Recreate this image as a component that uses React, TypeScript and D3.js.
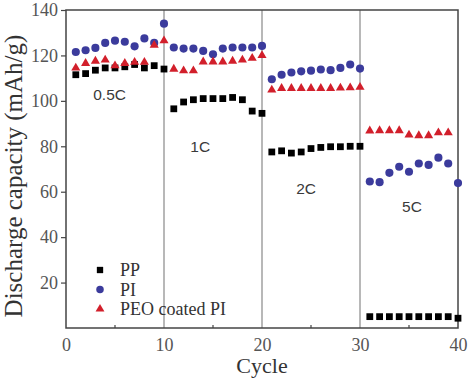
import React, { useEffect, useRef } from 'react';
import * as d3 from 'd3';

// cycle numbers 1..40
const cycles = d3.range(1, 41);

// discharge capacity (mAh/g)
const ppValues = [
  111.5, 112, 113.5, 114.5, 114.5, 115, 116, 114.5, 115.5, 114,
  96.5, 99.5, 100.5, 101, 101, 101, 101.5, 100.5, 95.5, 94.5,
  77.5, 78, 77, 77.5, 79, 79.5, 79.8, 79.8, 80, 80,
  5, 5, 5, 5, 5, 5, 5, 5, 5, 4.3,
];
const piValues = [
  121.5, 122.3, 123.3, 125.5, 126.5, 126, 124, 127.5, 125.5, 134,
  123.5, 123, 123, 122, 120.5, 123, 123.5, 123.5, 123.5, 124.2,
  109.5, 111.5, 112.5, 113, 113.3, 113.8, 113.5, 114.5, 116, 114.2,
  64.5, 64.2, 68.3, 71, 68.8, 72.4, 71.8, 75, 72.4, 63.8,
];
const peoValues = [
  114.5, 116.5, 117.5, 118, 115.5, 116.5, 117, 117, 124.5, 126.5,
  114, 113.3, 113.3, 117.2, 117.2, 117.2, 117.5, 118, 118.8, 120,
  104.8, 105.5, 105.5, 105.5, 105.5, 105.5, 105.5, 105.7, 105.8, 106,
  86.8, 86.9, 86.9, 86.9, 85, 84.7, 84.7, 86, 86,
];

const rateLabels = [
  { text: '0.5C', cycle: 4.45, value: 100.2 },
  { text: '1C', cycle: 13.7, value: 77.5 },
  { text: '2C', cycle: 24.5, value: 59 },
  { text: '5C', cycle: 35.3, value: 51 },
];
const separators = [10, 20, 30];
const yTicks = [20, 40, 60, 80, 100, 120, 140];
const xTicks = [0, 10, 20, 30, 40];
const xMinor = [5, 15, 25, 35];

const seriesNames = ['PP', 'PI', 'PEO coated PI'];

const App = () => {
  const ref = useRef<SVGSVGElement | null>(null);

  useEffect(() => {
    const svg = d3.select(ref.current);
    svg.selectAll('*').remove();

    const x = d3.scaleLinear().domain([0, 40]).range([66, 458]);
    const y = d3.scaleLinear().domain([0, 140]).range([328, 10]);
    const serif = '"Liberation Serif", "Times New Roman", serif';
    const axisColor = '#444';

    svg.append('rect').attr('width', 470).attr('height', 388).attr('fill', '#fff');

    // rate separators
    svg
      .selectAll('.sep')
      .data(separators)
      .enter()
      .append('line')
      .attr('x1', (d) => x(d))
      .attr('x2', (d) => x(d))
      .attr('y1', y(140))
      .attr('y2', y(0))
      .attr('stroke', '#9a9a9a')
      .attr('stroke-width', 1.4);

    // frame
    svg
      .append('rect')
      .attr('x', x(0))
      .attr('y', y(140))
      .attr('width', x(40) - x(0))
      .attr('height', y(0) - y(140))
      .attr('fill', 'none')
      .attr('stroke', axisColor)
      .attr('stroke-width', 1.5);

    // y axis
    const yAxis = svg
      .append('g')
      .attr('transform', `translate(${x(0)},0)`)
      .call(d3.axisLeft(y).tickValues(yTicks).tickSize(5).tickPadding(3));
    yAxis.attr('font-family', null);
    yAxis.select('.domain').remove();
    yAxis.selectAll('line').attr('stroke', axisColor).attr('stroke-width', 1.2);
    yAxis
      .selectAll('text')
      .style('font-family', serif)
      .style('font-size', '18px')
      .attr('fill', '#555');

    // x axis
    const xAxis = svg
      .append('g')
      .attr('transform', `translate(0,${y(0)})`)
      .call(d3.axisBottom(x).tickValues(xTicks).tickSize(0).tickPadding(10));
    xAxis.attr('font-family', null);
    xAxis.select('.domain').remove();
    xAxis
      .selectAll('text')
      .style('font-family', serif)
      .style('font-size', '18px')
      .attr('fill', '#555');

    svg
      .selectAll('.minor')
      .data(xMinor)
      .enter()
      .append('line')
      .attr('x1', (d) => x(d))
      .attr('x2', (d) => x(d))
      .attr('y1', y(0))
      .attr('y2', y(0) - 3)
      .attr('stroke', axisColor)
      .attr('stroke-width', 1.2);

    // axis titles
    svg
      .append('text')
      .attr('x', (x(0) + x(40)) / 2)
      .attr('y', 373)
      .attr('text-anchor', 'middle')
      .attr('font-family', serif)
      .attr('font-size', 22)
      .attr('fill', '#333')
      .text('Cycle');

    svg
      .append('text')
      .attr('transform', `translate(22,${176}) rotate(-90)`)
      .attr('text-anchor', 'middle')
      .attr('font-family', serif)
      .attr('font-size', 25)
      .attr('fill', '#333')
      .text('Discharge capacity (mAh/g)');

    // rate labels
    svg
      .selectAll('.rate')
      .data(rateLabels)
      .enter()
      .append('text')
      .attr('x', (d) => x(d.cycle))
      .attr('y', (d) => y(d.value))
      .attr('text-anchor', 'middle')
      .attr('font-family', '"Liberation Sans", Arial, sans-serif')
      .attr('font-size', 15.5)
      .attr('fill', '#3a3a3a')
      .text((d) => d.text);

    const square = d3.symbol().type(d3.symbolSquare).size(46);
    const circle = d3.symbol().type(d3.symbolCircle).size(52);
    const triangle = d3.symbol().type(d3.symbolTriangle).size(36);

    // PP squares
    svg
      .selectAll('.pp')
      .data(ppValues)
      .enter()
      .append('path')
      .attr('d', square)
      .attr('transform', (d, i) => `translate(${x(cycles[i])},${y(d)})`)
      .attr('fill', '#000');

    // PI circles
    svg
      .selectAll('.pi')
      .data(piValues)
      .enter()
      .append('path')
      .attr('d', circle)
      .attr('transform', (d, i) => `translate(${x(cycles[i])},${y(d)})`)
      .attr('fill', '#3b3b9c');

    // PEO coated PI triangles
    svg
      .selectAll('.peo')
      .data(peoValues)
      .enter()
      .append('path')
      .attr('d', triangle)
      .attr('transform', (d, i) => `translate(${x(cycles[i])},${y(d)})`)
      .attr('fill', '#d21f2b');

    // legend
    const legendShapes = [
      { sym: d3.symbol().type(d3.symbolSquare).size(40), color: '#000' },
      { sym: d3.symbol().type(d3.symbolCircle).size(44), color: '#3b3b9c' },
      { sym: d3.symbol().type(d3.symbolTriangle).size(34), color: '#d21f2b' },
    ];
    const legend = svg.append('g');
    seriesNames.forEach((name, i) => {
      const ly = 270 + i * 19.5;
      legend
        .append('path')
        .attr('d', legendShapes[i].sym)
        .attr('transform', `translate(100,${ly})`)
        .attr('fill', legendShapes[i].color);
      legend
        .append('text')
        .attr('x', 120)
        .attr('y', ly + 6)
        .attr('font-family', serif)
        .attr('font-size', 18)
        .attr('fill', '#333')
        .text(name);
    });
  }, []);

  return (
    <svg
      ref={ref}
      width={470}
      height={388}
      style={{ position: 'absolute', left: 0, top: 0 }}
    />
  );
};

export default App;
